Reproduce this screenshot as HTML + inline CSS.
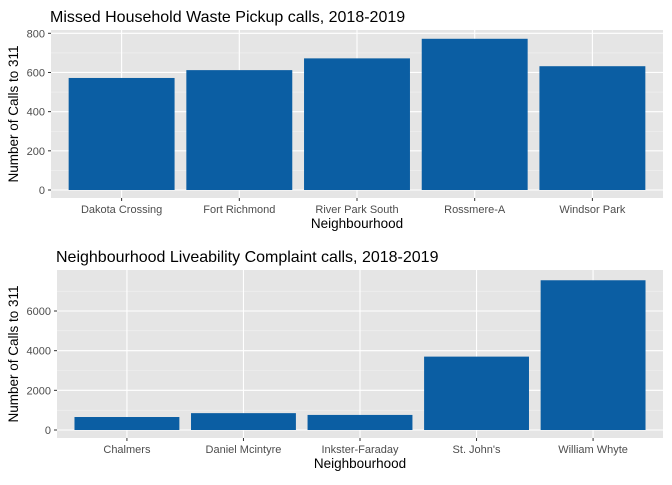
<!DOCTYPE html>
<html><head><meta charset="utf-8"><style>
body{margin:0;background:#fff;}
svg{font-family:"Liberation Sans",sans-serif;}
</style></head><body>
<svg width="672" height="480" viewBox="0 0 672 480">
<g id="p1"></g>
<g id="p2"></g>
</svg>
<script>
const cats1=["Dakota Crossing","Fort Richmond","River Park South","Rossmere-A","Windsor Park"];
const vals1=[572,612,672,772,632];
const ticks1=[0,200,400,600,800];
const cats2=["Chalmers","Daniel Mcintyre","Inkster-Faraday","St. John's","William Whyte"];
const vals2=[655,850,760,3700,7550];
const ticks2=[0,2000,4000,6000];
const NS="http://www.w3.org/2000/svg";
function mk(p,t,a,txt){const e=document.createElementNS(NS,t);for(const k in a)e.setAttribute(k,a[k]);if(txt!==undefined)e.textContent=txt;p.appendChild(e);return e;}
function panel(g,cfg){
 const {L,R,T,B,cats,vals,ticks,title,name}=cfg;
 const bg=mk(g,'rect',{x:L,y:T,width:R-L,height:B-T,fill:'#e5e5e5'});
 
 const yMax=cfg.ymax; const py0=cfg.py0, pyTop=cfg.pyTop;
 const ys=v=>py0-(v/yMax)*(py0-pyTop);
 const units=cats.length+0.2; const uw=(R-L)/units;
 const xs=i=>L+(i+0.6)*uw;
 for(let i=0;i<ticks.length;i++){const v=ticks[i]+(ticks[1]-ticks[0])/2;const y=ys(v);if(y>T)mk(g,'line',{x1:L,x2:R,y1:y,y2:y,stroke:'#f2f2f2','stroke-width':0.6});}
 ticks.forEach(t=>{const y=ys(t);mk(g,'line',{x1:L,x2:R,y1:y,y2:y,stroke:'#fff','stroke-width':1.1});
  const tl=mk(g,'text',{x:L-6,y:y+4,'text-anchor':'end','font-size':11,fill:'#4d4d4d'},t);
  
  mk(g,'line',{x1:L-3,x2:L,y1:y,y2:y,stroke:'#333','stroke-width':1});});
 cats.forEach((c,i)=>{const x=xs(i);mk(g,'line',{x1:x,x2:x,y1:T,y2:B,stroke:'#fff','stroke-width':1.1});});
 cats.forEach((c,i)=>{const x=xs(i);const w=0.9*uw;
  const b=mk(g,'rect',{x:x-w/2,y:ys(vals[i]),width:w,height:ys(0)-ys(vals[i]),fill:'#0b5ea3'});
  
  mk(g,'line',{x1:x,x2:x,y1:B,y2:B+3,stroke:'#333','stroke-width':1});
  const xl=mk(g,'text',{x:x,y:B+15,'text-anchor':'middle','font-size':11,fill:'#4d4d4d'},c);
  });
 const tt=mk(g,'text',{x:L-1,y:T-8,'font-size':16,fill:'#000'},title);
 
 const xt=mk(g,'text',{x:(L+R)/2,y:B+30,'text-anchor':'middle','font-size':13.5,fill:'#000'},'Neighbourhood');
 
 const cy=(T+B)/2;
 const yt=mk(g,'text',{x:0,y:0,'text-anchor':'middle','font-size':13.5,fill:'#000',transform:`translate(18,${cy}) rotate(-90)`},'Number of Calls to 311');
 
}
panel(document.getElementById('p1'),{L:51,R:663,T:30,B:198,py0:190,pyTop:33.3,ymax:800,cats:cats1,vals:vals1,ticks:ticks1,title:'Missed Household Waste Pickup calls, 2018-2019',name:'waste'});
panel(document.getElementById('p2'),{L:57,R:663,T:270,B:438,py0:430,pyTop:311,ymax:6000,cats:cats2,vals:vals2,ticks:ticks2,title:'Neighbourhood Liveability Complaint calls, 2018-2019',name:'liveability'});
</script>
</body></html>
